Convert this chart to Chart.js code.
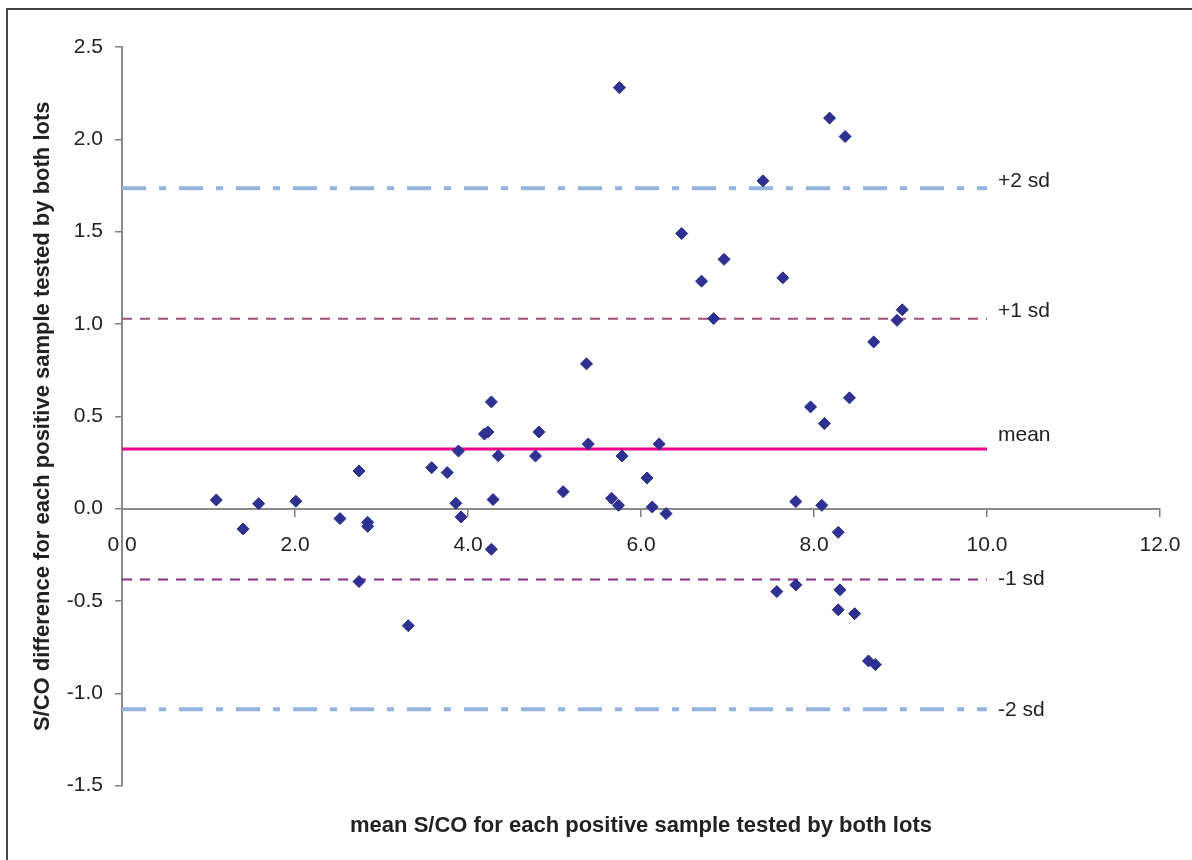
<!DOCTYPE html>
<html>
<head>
<meta charset="utf-8">
<script src="https://cdn.jsdelivr.net/npm/chart.js@4.4.1/dist/chart.umd.min.js"></script>
<style>
  html, body { margin: 0; padding: 0; background: #fff; }
</style>
</head>
<body>
<canvas id="baChart" width="1192" height="860"></canvas>
<script>
// mean S/CO (x) and S/CO difference (y) for each sample
const MEAN_SCO = [
  1.09, 1.40, 1.58, 2.01, 2.52, 2.74, 2.84, 2.84, 2.74, 3.31, 3.58, 3.76, 3.89, 3.86, 3.92,
  4.19, 4.23, 4.27, 4.35, 4.29, 4.27,
  5.75, 7.41, 6.47, 6.96, 6.70, 7.64, 6.84, 5.37, 4.82, 4.78, 5.39, 5.78, 6.21, 6.07, 5.10,
  5.66, 5.74, 6.13, 6.29, 7.79,
  8.18, 8.36, 9.02, 8.96, 8.69, 8.41,
  7.96, 8.12, 8.09, 8.28, 7.57, 7.79, 8.30, 8.28, 8.47, 8.63, 8.71
];
const DIFF_SCO = [
  0.047, -0.11, 0.027, 0.04, -0.054, 0.204, -0.074, -0.096, -0.395, -0.634, 0.222, 0.195, 0.312, 0.029, -0.045,
  0.404, 0.415, 0.578, 0.286, 0.049, -0.22,
  2.28, 1.775, 1.49, 1.35, 1.232, 1.25, 1.029, 0.784, 0.415, 0.285, 0.35, 0.285, 0.35, 0.166, 0.092,
  0.056, 0.018, 0.009, -0.027, 0.038,
  2.115, 2.015, 1.077, 1.02, 0.903, 0.60,
  0.551, 0.461, 0.018, -0.128, -0.449, -0.413, -0.44, -0.548, -0.569, -0.825, -0.845
];

// reference lines
const REF_NAMES = ['+2 sd', '+1 sd', 'mean', '-1 sd', '-2 sd'];
const REF_VALUES = [1.735, 1.028, 0.323, -0.384, -1.086];
const REF_X_RANGE = [0, 10];

const X_TICKS = [0, 2, 4, 6, 8, 10, 12];
const Y_TICKS = [-1.5, -1.0, -0.5, 0, 0.5, 1.0, 1.5, 2.0, 2.5];

const refStyles = [
  { color: '#95b3de', width: 4, dash: [24, 13, 7, 13] },
  { color: '#9b4f7c', width: 2, dash: [10, 8] },
  { color: '#ec008c', width: 3, dash: [] },
  { color: '#912a8e', width: 2, dash: [10, 8] },
  { color: '#95b3de', width: 4, dash: [24, 13, 7, 13] }
];
const labelNudge = [-7, -8, -14, 0, 1];

const points = MEAN_SCO.map((x, i) => ({ x: x, y: DIFF_SCO[i] }));

const datasets = [{
  type: 'scatter',
  data: points,
  pointStyle: 'rectRot',
  pointRadius: 6,
  pointBackgroundColor: '#2e3192',
  pointBorderColor: '#2a2d88',
  pointBorderWidth: 1
}];
REF_VALUES.forEach((v, i) => {
  datasets.push({
    type: 'line',
    data: REF_X_RANGE.map(x => ({ x: x, y: v })),
    borderColor: refStyles[i].color,
    borderWidth: refStyles[i].width,
    borderDash: refStyles[i].dash,
    borderCapStyle: 'butt',
    pointRadius: 0,
    fill: false
  });
});

const frame = {
  id: 'frame',
  beforeDraw(chart) {
    const ctx = chart.ctx;
    ctx.save();
    ctx.fillStyle = '#fff';
    ctx.fillRect(0, 0, chart.width, chart.height);
    ctx.strokeStyle = '#444';
    ctx.lineWidth = 2;
    ctx.beginPath();
    ctx.moveTo(7, chart.height);
    ctx.lineTo(7, 9);
    ctx.lineTo(chart.width, 9);
    ctx.stroke();
    ctx.restore();
  }
};

const refLabels = {
  id: 'refLabels',
  afterDatasetsDraw(chart) {
    const ctx = chart.ctx;
    const xs = chart.scales.x, ys = chart.scales.y;
    ctx.save();
    ctx.font = '21px "Liberation Sans", Arial, sans-serif';
    ctx.fillStyle = '#222';
    ctx.textBaseline = 'middle';
    ctx.textAlign = 'left';
    REF_NAMES.forEach((name, i) => {
      const px = xs.getPixelForValue(REF_X_RANGE[1]) + 11;
      const py = ys.getPixelForValue(REF_VALUES[i]) + labelNudge[i];
      ctx.fillText(name, px, py);
    });
    ctx.restore();
  }
};

const tickFont = { family: '"Liberation Sans", Arial, sans-serif', size: 21 };

new Chart(document.getElementById('baChart'), {
  data: { datasets: datasets },
  options: {
    responsive: false,
    animation: false,
    layout: { padding: { left: 8, top: 47, right: 32, bottom: 0 } },
    plugins: {
      legend: { display: false },
      tooltip: { enabled: false },
      title: {
        display: true,
        position: 'bottom',
        fullSize: false,
        text: 'mean S/CO for each positive sample tested by both lots',
        color: '#222',
        font: { family: '"Liberation Sans", Arial, sans-serif', size: 22, weight: 'bold', lineHeight: 1.2 },
        padding: { top: 27, bottom: 21 }
      }
    },
    scales: {
      x: {
        type: 'linear',
        min: 0,
        max: 12,
        position: { y: 0 },
        afterBuildTicks: s => { s.ticks = X_TICKS.map(v => ({ value: v })); },
        afterFit: s => { s.paddingLeft = 0; s.paddingRight = 0; },
        ticks: {
          font: tickFont,
          color: '#222',
          padding: 17,
          maxRotation: 0,
          callback: v => Number(v).toFixed(1)
        },
        grid: { drawOnChartArea: false, drawTicks: true, tickLength: 7, color: '#7f7f7f', lineWidth: 1.5 },
        border: { display: true, color: '#8a8a8a', width: 2 }
      },
      y: {
        type: 'linear',
        position: 'left',
        min: -1.5,
        max: 2.5,
        afterBuildTicks: s => { s.ticks = Y_TICKS.map(v => ({ value: v })); },
        afterFit: s => { s.width = 114; },
        ticks: {
          font: tickFont,
          color: '#222',
          padding: 12,
          callback: v => Number(v).toFixed(1)
        },
        grid: { drawOnChartArea: false, drawTicks: true, tickLength: 7, color: '#7f7f7f', lineWidth: 1.5 },
        border: { display: true, color: '#8a8a8a', width: 2 },
        title: {
          display: true,
          text: 'S/CO difference for each positive sample tested by both lots',
          color: '#222',
          font: { family: '"Liberation Sans", Arial, sans-serif', size: 22, weight: 'bold', lineHeight: 1.2 },
          padding: { top: 22, bottom: 0 }
        }
      }
    }
  },
  plugins: [frame, refLabels]
});
</script>
</body>
</html>
